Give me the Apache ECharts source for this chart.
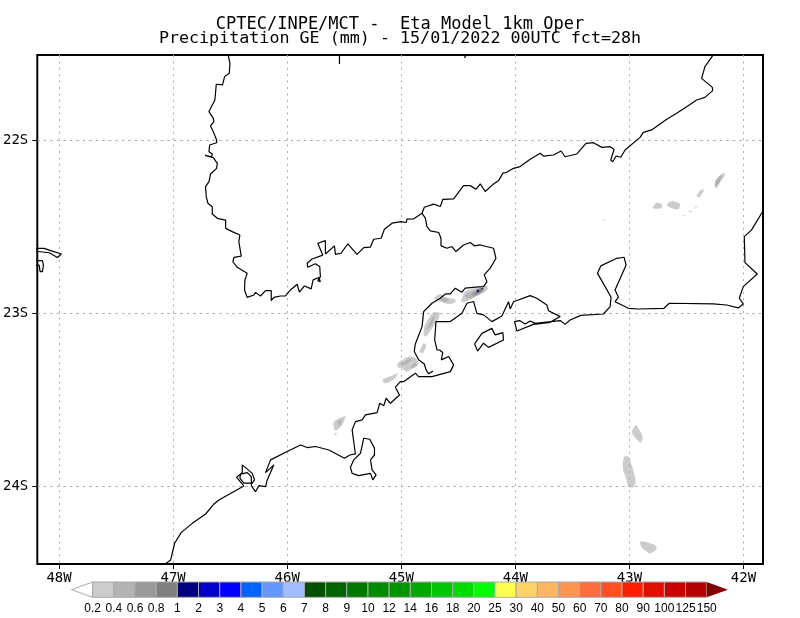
<!DOCTYPE html>
<html><head><meta charset="utf-8">
<script src="https://cdn.jsdelivr.net/npm/echarts@6/dist/echarts.min.js"></script>
<style>html,body{margin:0;padding:0;background:#fff}#c{width:800px;height:618px}</style>
</head><body><div id="c"></div>
<script>
const titleLine1 = 'CPTEC/INPE/MCT -  Eta Model 1km Oper';
const titleLine2 = 'Precipitation GE (mm) - 15/01/2022 00UTC fct=28h';
const lonTicks = [-48,-47,-46,-45,-44,-43,-42];
const latTicks = [-24,-23,-22];
const thresholds = ['0.2','0.4','0.6','0.8','1','2','3','4','5','6','7','8','9','10','12','14','16','18','20','25','30','40','50','60','70','80','90','100','125','150'];
const bandColors = ['#ffffff','#cccccc','#b3b3b3','#999999','#808080','#000080','#0000c8','#0000ff','#0064ff','#6496ff','#a0bcff','#005000','#006400','#007800','#008c00','#009400','#00aa00','#00c800','#00dc00','#00ff00','#ffff50','#ffd264','#ffb464','#ff9650','#ff6e3c','#ff5020','#ff1e00','#e10f00','#c80000','#b40000','#800000'];

const coastNorth = [[-46.520,-21.500],[-46.502,-21.557],[-46.508,-21.615],[-46.549,-21.634],[-46.567,-21.682],[-46.622,-21.678],[-46.634,-21.769],[-46.686,-21.836],[-46.648,-21.875],[-46.643,-21.894],[-46.672,-21.919],[-46.648,-21.952],[-46.619,-22.000],[-46.619,-22.016],[-46.680,-22.029],[-46.686,-22.068],[-46.657,-22.081],[-46.663,-22.097],[-46.721,-22.089],[-46.710,-22.100],[-46.648,-22.102],[-46.613,-22.135],[-46.619,-22.164],[-46.672,-22.197],[-46.686,-22.241],[-46.716,-22.270],[-46.710,-22.328],[-46.695,-22.366],[-46.657,-22.386],[-46.657,-22.428],[-46.613,-22.453],[-46.540,-22.463],[-46.540,-22.511],[-46.482,-22.530],[-46.415,-22.549],[-46.424,-22.588],[-46.403,-22.671],[-46.467,-22.679],[-46.476,-22.704],[-46.438,-22.736],[-46.351,-22.771],[-46.371,-22.810],[-46.374,-22.867],[-46.386,-22.877],[-46.351,-22.910],[-46.292,-22.896],[-46.278,-22.881],[-46.234,-22.902],[-46.190,-22.871],[-46.140,-22.871],[-46.140,-22.929],[-46.117,-22.910],[-46.059,-22.902],[-46.015,-22.901],[-45.971,-22.867],[-45.913,-22.834],[-45.893,-22.880],[-45.849,-22.844],[-45.790,-22.861],[-45.773,-22.809],[-45.723,-22.795],[-45.709,-22.819],[-45.732,-22.813],[-45.709,-22.790],[-45.715,-22.732],[-45.753,-22.716],[-45.820,-22.736],[-45.825,-22.713],[-45.782,-22.688],[-45.688,-22.666],[-45.732,-22.597],[-45.665,-22.582],[-45.665,-22.659],[-45.586,-22.612],[-45.577,-22.661],[-45.528,-22.655],[-45.469,-22.601],[-45.388,-22.661],[-45.329,-22.622],[-45.271,-22.620],[-45.242,-22.574],[-45.177,-22.568],[-45.148,-22.516],[-45.081,-22.481],[-45.002,-22.472],[-44.956,-22.477],[-44.950,-22.458],[-44.891,-22.456],[-44.818,-22.424],[-44.798,-22.389],[-44.716,-22.371],[-44.658,-22.385],[-44.635,-22.343],[-44.541,-22.341],[-44.454,-22.264],[-44.395,-22.264],[-44.346,-22.285],[-44.308,-22.254],[-44.264,-22.298],[-44.191,-22.254],[-44.147,-22.235],[-44.109,-22.192],[-44.080,-22.188],[-44.016,-22.164],[-43.958,-22.154],[-43.870,-22.112],[-43.782,-22.077],[-43.753,-22.093],[-43.666,-22.087],[-43.599,-22.064],[-43.564,-22.097],[-43.461,-22.081],[-43.380,-22.020],[-43.315,-22.016],[-43.242,-22.043],[-43.169,-22.039],[-43.134,-22.054],[-43.164,-22.116],[-43.146,-22.126],[-43.117,-22.093],[-43.076,-22.100],[-43.038,-22.058],[-42.907,-21.985],[-42.878,-21.956],[-42.805,-21.942],[-42.673,-21.881],[-42.586,-21.846],[-42.498,-21.808],[-42.411,-21.769],[-42.338,-21.754],[-42.270,-21.715],[-42.273,-21.696],[-42.367,-21.644],[-42.338,-21.576],[-42.273,-21.515],[-42.250,-21.495]];
const coastBranch = [[-44.818,-22.424],[-44.789,-22.452],[-44.775,-22.501],[-44.745,-22.526],[-44.672,-22.535],[-44.652,-22.568],[-44.652,-22.612],[-44.599,-22.626],[-44.556,-22.616],[-44.521,-22.645],[-44.454,-22.607],[-44.395,-22.593],[-44.360,-22.612],[-44.308,-22.607],[-44.191,-22.626],[-44.170,-22.684],[-44.220,-22.741],[-44.273,-22.780],[-44.249,-22.819],[-44.278,-22.847],[-44.351,-22.851],[-44.439,-22.857],[-44.468,-22.880],[-44.527,-22.857],[-44.570,-22.890],[-44.614,-22.890],[-44.658,-22.915],[-44.731,-22.944],[-44.804,-22.992],[-44.818,-23.079],[-44.877,-23.179],[-44.886,-23.223],[-44.848,-23.271],[-44.798,-23.295],[-44.783,-23.329],[-44.760,-23.352],[-44.722,-23.335]];
const coastSouth = [[-47.080,-24.456],[-47.022,-24.428],[-46.987,-24.331],[-46.928,-24.268],[-46.832,-24.216],[-46.715,-24.162],[-46.642,-24.104],[-46.599,-24.081],[-46.380,-24.000],[-46.444,-23.950],[-46.394,-23.923],[-46.394,-23.878],[-46.307,-23.927],[-46.286,-23.965],[-46.307,-23.984],[-46.380,-23.984],[-46.415,-23.955],[-46.409,-23.932],[-46.350,-23.923],[-46.315,-23.946],[-46.313,-24.000],[-46.278,-24.033],[-46.248,-23.998],[-46.190,-24.004],[-46.175,-23.965],[-46.117,-23.878],[-46.190,-23.923],[-46.146,-23.849],[-46.000,-23.801],[-45.883,-23.763],[-45.825,-23.778],[-45.752,-23.772],[-45.635,-23.792],[-45.498,-23.840],[-45.451,-23.821],[-45.402,-23.815],[-45.431,-23.676],[-45.402,-23.628],[-45.343,-23.618],[-45.314,-23.589],[-45.212,-23.576],[-45.189,-23.522],[-45.154,-23.537],[-45.133,-23.493],[-45.095,-23.522],[-45.016,-23.474],[-45.052,-23.429],[-45.008,-23.397],[-44.979,-23.397],[-44.877,-23.348],[-44.848,-23.368],[-44.731,-23.368],[-44.570,-23.339],[-44.541,-23.300],[-44.585,-23.252],[-44.649,-23.271],[-44.637,-23.229],[-44.664,-23.214],[-44.687,-23.214],[-44.707,-23.156],[-44.696,-23.050],[-44.570,-23.050],[-44.468,-23.002],[-44.424,-22.944],[-44.366,-22.934],[-44.337,-23.002],[-44.278,-23.011],[-44.205,-23.050],[-44.118,-23.017],[-44.060,-22.935],[-44.045,-22.977],[-44.016,-22.935],[-43.870,-22.900],[-43.812,-22.915],[-43.724,-22.954],[-43.709,-22.987],[-43.607,-23.021],[-43.695,-23.054],[-43.841,-23.066],[-43.987,-23.104],[-44.007,-23.050],[-43.963,-23.044],[-43.914,-23.064],[-43.870,-23.046],[-43.826,-23.060],[-43.607,-23.044],[-43.564,-23.066],[-43.520,-23.041],[-43.426,-23.014],[-43.228,-23.006],[-43.169,-22.963],[-43.161,-22.909],[-43.213,-22.848],[-43.280,-22.771],[-43.251,-22.728],[-43.111,-22.684],[-43.047,-22.678],[-43.029,-22.723],[-43.126,-22.867],[-43.096,-22.909],[-43.126,-22.935],[-43.009,-22.973],[-42.921,-22.977],[-42.697,-22.973],[-42.650,-22.944],[-42.265,-22.948],[-42.148,-22.954],[-42.046,-22.971],[-42.002,-22.948],[-42.037,-22.915],[-42.002,-22.848],[-41.879,-22.775],[-41.987,-22.709],[-41.993,-22.559],[-41.929,-22.520],[-41.841,-22.424],[-41.812,-22.395]];
const islandGrande = [[-44.357,-23.179],[-44.293,-23.118],[-44.206,-23.089],[-44.177,-23.127],[-44.109,-23.114],[-44.104,-23.156],[-44.235,-23.199],[-44.279,-23.175],[-44.331,-23.220],[-44.357,-23.179]];
const islandSebastiao = [[-45.329,-23.724],[-45.276,-23.730],[-45.235,-23.782],[-45.235,-23.821],[-45.270,-23.849],[-45.256,-23.907],[-45.221,-23.936],[-45.250,-23.965],[-45.270,-23.927],[-45.373,-23.940],[-45.431,-23.927],[-45.446,-23.892],[-45.416,-23.849],[-45.358,-23.811],[-45.329,-23.724]];
const riverWestA = [[-48.219,-22.627],[-48.131,-22.627],[-48.073,-22.640],[-47.979,-22.659],[-48.014,-22.679],[-48.087,-22.652],[-48.219,-22.642]];
const riverWestB = [[-48.219,-22.698],[-48.146,-22.698],[-48.137,-22.723],[-48.146,-22.761],[-48.166,-22.761],[-48.175,-22.723],[-48.219,-22.723]];
const fragmentTopA = [[-45.542,-21.500],[-45.542,-21.561]];
const fragmentTopB = [[-44.422,-21.500],[-44.447,-21.526]];

// precipitation patches by shading level, polygons in lon/lat
const rainLevel1 = [
 [[-44.707,-22.909],[-44.658,-22.890],[-44.614,-22.909],[-44.527,-22.921],[-44.527,-22.938],[-44.585,-22.950],[-44.658,-22.934],[-44.702,-22.928]],
 [[-44.468,-22.915],[-44.439,-22.876],[-44.337,-22.851],[-44.264,-22.838],[-44.235,-22.857],[-44.278,-22.882],[-44.351,-22.905],[-44.410,-22.928],[-44.454,-22.940],[-44.477,-22.928]],
 [[-44.804,-23.127],[-44.798,-23.079],[-44.760,-23.031],[-44.722,-22.998],[-44.664,-22.998],[-44.672,-23.031],[-44.710,-23.069],[-44.760,-23.117],[-44.783,-23.137]],
 [[-44.839,-23.223],[-44.804,-23.175],[-44.780,-23.185],[-44.810,-23.233]],
 [[-45.032,-23.291],[-44.935,-23.252],[-44.891,-23.256],[-44.848,-23.281],[-44.862,-23.310],[-44.921,-23.329],[-44.956,-23.339],[-44.994,-23.320],[-45.032,-23.314]],
 [[-45.160,-23.383],[-45.067,-23.358],[-45.032,-23.348],[-45.052,-23.377],[-45.131,-23.406],[-45.160,-23.397]],
 [[-45.592,-23.628],[-45.489,-23.595],[-45.519,-23.647],[-45.562,-23.676],[-45.586,-23.676]],
 [[-45.583,-23.695],[-45.568,-23.695],[-45.568,-23.705],[-45.583,-23.705]],
 [[-42.974,-23.677],[-42.942,-23.648],[-42.913,-23.677],[-42.883,-23.715],[-42.901,-23.750],[-42.942,-23.725],[-42.974,-23.700]],
 [[-43.047,-23.831],[-43.009,-23.831],[-42.980,-23.879],[-42.959,-23.927],[-42.945,-23.975],[-42.965,-24.008],[-43.009,-24.004],[-43.029,-23.956],[-43.053,-23.917],[-43.059,-23.879]],
 [[-42.907,-24.322],[-42.863,-24.322],[-42.775,-24.341],[-42.761,-24.366],[-42.819,-24.390],[-42.892,-24.355]],
 [[-42.250,-22.270],[-42.241,-22.232],[-42.177,-22.189],[-42.162,-22.203],[-42.212,-22.251],[-42.235,-22.280]],
 [[-42.411,-22.322],[-42.375,-22.289],[-42.343,-22.289],[-42.387,-22.332]],
 [[-42.796,-22.395],[-42.761,-22.362],[-42.717,-22.370],[-42.717,-22.395]],
 [[-42.673,-22.376],[-42.629,-22.353],[-42.556,-22.370],[-42.571,-22.401],[-42.629,-22.395]],
 [[-42.425,-22.389],[-42.408,-22.389],[-42.408,-22.395],[-42.425,-22.395]],
 [[-42.475,-22.410],[-42.457,-22.410],[-42.457,-22.418],[-42.475,-22.418]],
 [[-42.527,-22.435],[-42.510,-22.435],[-42.510,-22.441],[-42.527,-22.441]],
 [[-43.228,-22.457],[-43.213,-22.457],[-43.213,-22.464],[-43.228,-22.464]]
];
const rainLevel2 = [
 [[-44.658,-22.921],[-44.614,-22.911],[-44.585,-22.928],[-44.629,-22.938]],
 [[-44.439,-22.896],[-44.337,-22.863],[-44.264,-22.847],[-44.278,-22.876],[-44.381,-22.915],[-44.430,-22.915]],
 [[-44.780,-23.098],[-44.731,-23.031],[-44.702,-23.011],[-44.731,-23.069]],
 [[-45.008,-23.300],[-44.935,-23.266],[-44.906,-23.271],[-44.964,-23.300]],
 [[-44.915,-23.310],[-44.877,-23.285],[-44.868,-23.300],[-44.906,-23.320]],
 [[-45.562,-23.628],[-45.519,-23.618],[-45.539,-23.653]],
 [[-42.250,-22.270],[-42.241,-22.232],[-42.190,-22.200],[-42.212,-22.251]]
];
const rainLevel3 = [
 [[-44.381,-22.890],[-44.308,-22.857],[-44.278,-22.867],[-44.337,-22.896],[-44.366,-22.901]]
];
const rainLevel4 = [
 [[-44.351,-22.882],[-44.308,-22.863],[-44.293,-22.873],[-44.337,-22.890]]
];
const rainLevel5 = [
 [[-44.337,-22.867],[-44.319,-22.867],[-44.319,-22.878],[-44.337,-22.878]],
 [[-44.299,-22.855],[-44.287,-22.855],[-44.287,-22.863],[-44.299,-22.863]]
];

const rainPatches = [];
[rainLevel1,rainLevel2,rainLevel3,rainLevel4,rainLevel5].forEach((lv,i)=>lv.forEach(p=>rainPatches.push({band:i+1,poly:p})));

function coastSeries(points){
  return {type:'line',data:points,symbol:'none',smooth:false,silent:true,z:5,
    lineStyle:{color:'#000',width:1.2},xAxisIndex:0,yAxisIndex:0};
}
const chart = echarts.init(document.getElementById('c'),null,{renderer:'canvas'});
const mono = '"DejaVu Sans Mono"';
chart.setOption({
  animation:false,backgroundColor:'#fff',
  title:[
    {text:titleLine1,left:'center',top:11,textStyle:{fontFamily:mono,fontSize:17,fontWeight:'normal',color:'#000'}},
    {text:titleLine2,left:'center',top:25,textStyle:{fontFamily:mono,fontSize:16.7,fontWeight:'normal',color:'#000'}}
  ],
  grid:[
    {left:36.5,top:55,width:726.5,height:509,show:true,borderColor:'#000',borderWidth:2,backgroundColor:'transparent',containLabel:false},
    {left:71.5,top:582,width:656.4,height:15.3,containLabel:false}
  ],
  xAxis:[
    {type:'value',gridIndex:0,min:-48.191,max:-41.829,
     axisLine:{show:false},
     axisTick:{show:true,length:5,customValues:lonTicks,lineStyle:{color:'#000',width:1}},
     axisLabel:{customValues:lonTicks,margin:7,formatter:v=>Math.abs(v)+'W',fontFamily:mono,fontSize:14,color:'#000'},
     splitLine:{show:true,lineStyle:{color:'#aaa',width:1,type:[2,4.4]}}},
    {type:'value',gridIndex:1,min:-1,max:30,interval:1,
     axisLine:{show:false},axisTick:{show:false},splitLine:{show:false},
     axisLabel:{margin:5,hideOverlap:false,formatter:v=>(v>=0&&v<thresholds.length)?thresholds[v]:'',fontFamily:'"Liberation Sans"',fontSize:12,color:'#000'}}
  ],
  yAxis:[
    {type:'value',gridIndex:0,min:-24.451,max:-21.509,
     axisLine:{show:false},
     axisTick:{show:true,length:5,customValues:latTicks,lineStyle:{color:'#000',width:1}},
     axisLabel:{customValues:latTicks,margin:9,formatter:v=>Math.abs(v)+'S',fontFamily:mono,fontSize:14,color:'#000'},
     splitLine:{show:true,lineStyle:{color:'#aaa',width:1,type:[2.5,4]}}},
    {type:'value',gridIndex:1,min:0,max:1,show:false}
  ],
  series:[
    {type:'custom',xAxisIndex:0,yAxisIndex:0,silent:true,z:-1,clip:true,
     data:rainPatches.map((_,i)=>i),
     renderItem:(params,api)=>{
       const r=rainPatches[params.dataIndex];
       return {type:'polygon',shape:{points:r.poly.map(p=>api.coord(p)),smooth:0.2},style:{fill:bandColors[r.band],stroke:null}};
     }},
    coastSeries(coastNorth),coastSeries(coastBranch),coastSeries(coastSouth),
    coastSeries(islandGrande),coastSeries(islandSebastiao),
    coastSeries(riverWestA),coastSeries(riverWestB),coastSeries(fragmentTopA),coastSeries(fragmentTopB),
    {type:'custom',xAxisIndex:1,yAxisIndex:1,silent:true,z:6,clip:false,
     data:bandColors.map((_,i)=>i-1),
     encode:{x:0},
     renderItem:(params,api)=>{
       const i=params.dataIndex-1;
       const a=api.coord([i,0]), b=api.coord([i+1,1]);
       const mid=(a[1]+b[1])/2;
       const n=bandColors.length-2;
       let pts;
       if(i===-1) pts=[[a[0],mid],[b[0],b[1]],[b[0],a[1]]];
       else if(i===n) pts=[[a[0],a[1]],[a[0],b[1]],[b[0],mid]];
       else pts=[[a[0],a[1]],[a[0],b[1]],[b[0],b[1]],[b[0],a[1]]];
       return {type:'polygon',shape:{points:pts},style:{fill:bandColors[params.dataIndex],stroke:i===n?null:'#aaa',lineWidth:1}};
     }}
  ]
});
</script></body></html>
